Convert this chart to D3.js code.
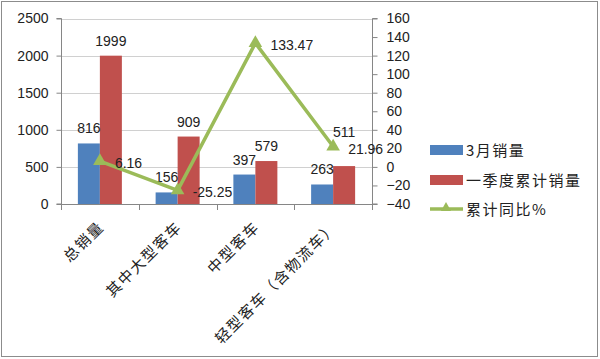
<!DOCTYPE html>
<html><head><meta charset="utf-8">
<script src="https://cdn.jsdelivr.net/npm/d3@7"></script>
<style>body{margin:0;background:#fff}svg{display:block}</style>
</head><body><svg id="c" width="600" height="359"></svg>
<script>
const categories = ["总销量","其中大型客车","中型客车","轻型客车（含物流车）"];
const seriesNames = ["3月销量","一季度累计销量","累计同比%"];
const marchSales = [816,156,397,263];
const q1Sales = [1999,909,579,511];
const yoyPct = [6.16,-25.25,133.47,21.96];
const leftTicks = [0,500,1000,1500,2000,2500];
const rightTicks = [-40,-20,0,20,40,60,80,100,120,140,160];
const colors = ["#4F81BD","#C0504D","#9BBB59"];

const svg = d3.select("#c");
const numFont = "'Liberation Sans', Arial, sans-serif";
const cjkFont = "'Noto Sans CJK SC', sans-serif";

svg.append("rect").attr("x",1.5).attr("y",1.5).attr("width",596).attr("height",355)
  .attr("fill","#fff").attr("stroke","#8c8c8c").attr("stroke-width",1);

const L=61, R=372, T=18.5, B=204;
const x = d3.scaleBand().domain(categories).range([L,R]).padding(0);
const yL = d3.scaleLinear().domain([0,2500]).range([B,T]);
const yR = d3.scaleLinear().domain([-40,160]).range([B,T]);
const barW = 22;
const x1 = d3.scaleBand().domain([0,1]).range([-barW, barW]).padding(0);

// gridlines
svg.append("g").selectAll("line").data(leftTicks.filter(d=>d>0)).join("line")
  .attr("x1",L).attr("x2",R).attr("y1",d=>Math.round(yL(d))+0.5).attr("y2",d=>Math.round(yL(d))+0.5)
  .attr("stroke","#d0d0d0").attr("stroke-width",1);

// bars
const barData = [];
categories.forEach((c,i)=>{
  barData.push({c, s:0, v:marchSales[i]});
  barData.push({c, s:1, v:q1Sales[i]});
});
svg.append("g").selectAll("rect").data(barData).join("rect")
  .attr("x",d=>x(d.c)+x.bandwidth()/2+x1(d.s))
  .attr("width",x1.bandwidth())
  .attr("y",d=>yL(d.v)).attr("height",d=>B-yL(d.v))
  .attr("fill",d=>colors[d.s]);

// axes
const axisColor = "#868686";
const gL = svg.append("g").attr("transform",`translate(${L+0.5},0)`)
  .call(d3.axisLeft(yL).tickValues(leftTicks).tickFormat(d3.format("d")).tickSize(5).tickPadding(8));
const gR = svg.append("g").attr("transform",`translate(${R+0.5},0)`)
  .call(d3.axisRight(yR).tickValues(rightTicks).tickFormat(d3.format("d")).tickSize(5).tickPadding(9));
[gL,gR].forEach(g=>{
  g.select(".domain").attr("stroke",axisColor).attr("d", g===gL ? `M-5,${B}H0V${T}H-5` : `M5,${B}H0V${T}H5`);
  g.selectAll(".tick line").attr("stroke",axisColor);
  g.selectAll(".tick text").attr("fill","#222").style("font-family",numFont).style("font-size","14px");
});
// bottom axis
const bottom = svg.append("g");
bottom.append("line").attr("x1",L).attr("x2",R).attr("y1",B+0.5).attr("y2",B+0.5).attr("stroke",axisColor);
const bounds = categories.map(c=>x(c)).concat([R]);
bottom.selectAll("line.t").data(bounds).join("line").attr("class","t")
  .attr("x1",d=>Math.round(d)+0.5).attr("x2",d=>Math.round(d)+0.5).attr("y1",B).attr("y2",B+6)
  .attr("stroke",axisColor);
bottom.selectAll("text").data(categories).join("text")
  .attr("transform",d=>`translate(${x(d)+x.bandwidth()/2+5},${B+24}) rotate(-45)`)
  .attr("text-anchor","end")
  .style("font-family",cjkFont).style("font-size","15px").style("letter-spacing","1.5px")
  .attr("fill","#222").text(d=>d);

// bar labels
const labelNudge = d => (d.s===1 && d.c===categories[3]) ? -19 : 0;
svg.append("g").selectAll("text").data(barData).join("text")
  .attr("x",d=>x(d.c)+x.bandwidth()/2+x1(d.s)+barW/2)
  .attr("y",d=>yL(d.v)-10+labelNudge(d))
  .attr("text-anchor","middle")
  .style("font-family",numFont).style("font-size","14px").attr("fill","#222")
  .text(d=>d.v);

// line
const pts = categories.map((c,i)=>({c, v:yoyPct[i], px:x(c)+x.bandwidth()/2, py:yR(yoyPct[i])}));
svg.append("path").datum(pts)
  .attr("d", d3.line().x(d=>d.px).y(d=>d.py))
  .attr("fill","none").attr("stroke",colors[2]).attr("stroke-width",3.5).attr("stroke-linejoin","round");
const tri = d3.symbol().type(d3.symbolTriangle).size(80);
svg.append("g").selectAll("path").data(pts).join("path")
  .attr("transform",d=>`translate(${d.px},${d.py})`).attr("d",tri).attr("fill",colors[2]);
svg.append("g").selectAll("text").data(pts).join("text")
  .attr("x",d=>d.px+15).attr("y",d=>d.py+7)
  .style("font-family",numFont).style("font-size","14px").attr("fill","#222")
  .text(d=>d.v.toFixed(2));

// legend
const lg = svg.append("g");
const legY = [150,180,209];
seriesNames.forEach((n,i)=>{
  if(i<2){
    lg.append("rect").attr("x",430).attr("y",legY[i]-5).attr("width",33).attr("height",10).attr("fill",colors[i]);
  } else {
    lg.append("line").attr("x1",430).attr("x2",463).attr("y1",legY[i]).attr("y2",legY[i]).attr("stroke",colors[2]).attr("stroke-width",3.5);
    lg.append("path").attr("transform",`translate(446,${legY[i]-1})`).attr("d",d3.symbol().type(d3.symbolTriangle).size(45)).attr("fill",colors[2]);
  }
  lg.append("text").attr("x",466).attr("y",legY[i]+6)
    .style("font-family",cjkFont).style("font-size","15px").style("letter-spacing","1.5px")
    .attr("fill","#222").text(n);
});
</script></body></html>
